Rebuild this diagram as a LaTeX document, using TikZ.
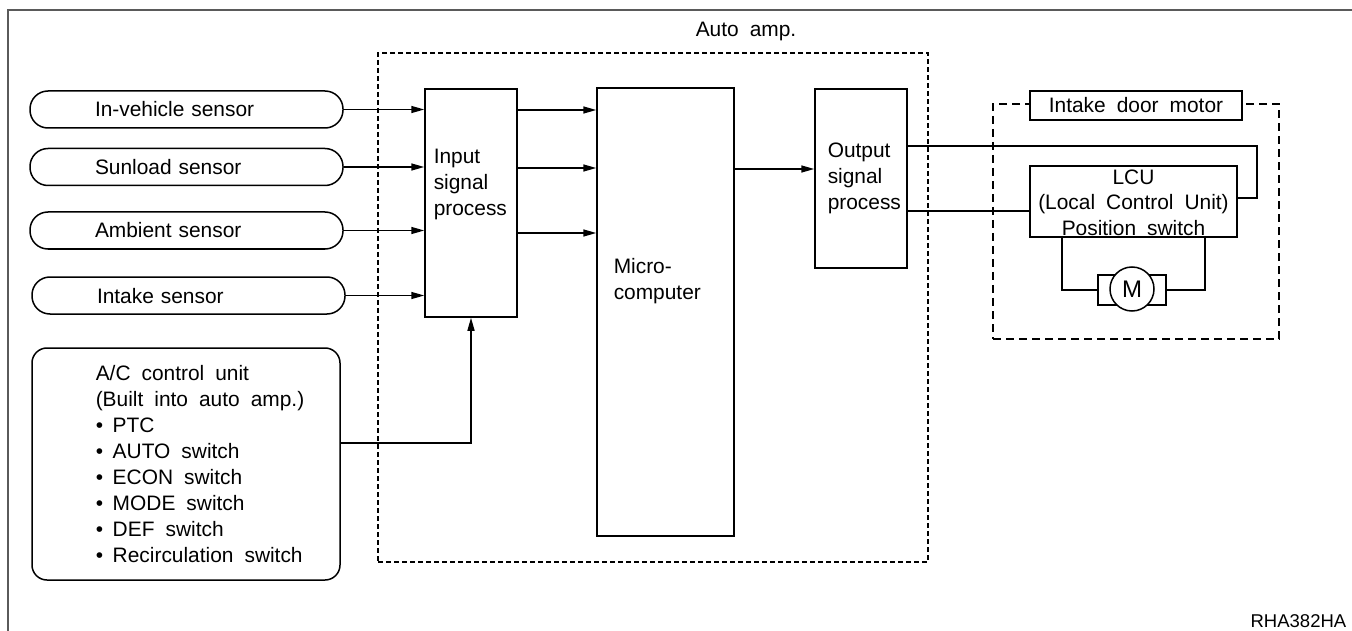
\documentclass[tikz,border=0pt]{standalone}
\usepackage{fontspec}
\setmainfont{Liberation Sans}[WordSpace=1.9]
\usetikzlibrary{arrows.meta,calc}
\definecolor{framec}{RGB}{90,90,90}
\begin{document}
\begin{tikzpicture}[x=1pt,y=-1pt, line width=1.5pt,
  every node/.style={font=\fontsize{20.9}{26}\selectfont, inner sep=0pt},
  pill/.style={draw, rounded corners=18pt, minimum height=37pt, text width=183pt, inner xsep=65pt, text height=15pt, text depth=0pt, align=left},
  blk/.style={draw, rectangle},
  arr/.style={-{Triangle[length=13pt,width=7pt]}},
  txt/.style={align=left, anchor=north west},
]
\useasboundingbox (0,0) rectangle (1352,631);
% frame
\draw[line width=2pt, framec] (7.5,631) -- (7.5,10) -- (1352,10);

% auto amp
\node[draw, dash pattern=on 5pt off 3pt, line width=1.2pt, minimum width=550pt, minimum height=509pt] (amp) at (653,307.5) {};
\node[anchor=base] (amplbl) at (746,37) {Auto amp.};

% sensors
\node[pill] (s1) at (186.5,109.5) {In-vehicle sensor};
\node[pill] (s2) at (186.5,167) {Sunload sensor};
\node[pill] (s3) at (186.5,230.5) {Ambient sensor};
\node[pill] (s4) at (188.5,295.5) {Intake sensor};

% blocks
\node[blk, minimum width=92pt, minimum height=228pt] (in) at (471,203) {};
\node[txt] (intxt) at (433,148) {Input\\signal\\process};
\node[blk, minimum width=137pt, minimum height=448pt] (mc) at (665.5,312) {};
\node[txt] (mctxt) at (613,258) {Micro-\\computer};
\node[blk, minimum width=92pt, minimum height=179pt] (out) at (861,178.5) {};
\node[txt] (outtxt) at (827,142) {Output\\signal\\process};

% A/C control unit
\node[draw, rounded corners=15pt, minimum width=308pt, minimum height=232pt] (ac) at (186,464) {};
\node[txt] (actxt) at (95,365) {A/C control unit\\(Built into auto amp.)\\
\makebox[17pt][l]{\textbullet}PTC\\
\makebox[17pt][l]{\textbullet}AUTO switch\\
\makebox[17pt][l]{\textbullet}ECON switch\\
\makebox[17pt][l]{\textbullet}MODE switch\\
\makebox[17pt][l]{\textbullet}DEF switch\\
\makebox[17pt][l]{\textbullet}Recirculation switch};

% intake door motor
\node[draw, dash pattern=on 8pt off 5pt, line width=1.2pt, minimum width=286pt, minimum height=235pt] (idm) at (1136,221.5) {};
\node[blk, fill=white, minimum width=212pt, minimum height=29pt, text height=15pt, text depth=0pt] (idmlbl) at (1136,105.5) {Intake door motor};
\node[blk, minimum width=207pt, minimum height=71pt] (lcu) at (1133.5,201.5) {};
\node[align=center, anchor=north, font=\fontsize{20.9}{25.5}\selectfont] (lcutxt) at (1133.5,169) {LCU\\(Local Control Unit)\\Position switch};
\node[blk, minimum width=68pt, minimum height=30pt] (mrect) at (1132,290) {};
\node[draw, circle, fill=white, minimum size=44pt, font=\fontsize{24}{28}\selectfont] (mot) at (1132,289) {M};

% connectors
\draw[arr] (s1.east) -- (s1.east -| in.west);
\draw[arr] (s2.east) -- (s2.east -| in.west);
\draw[arr] (s3.east) -- (s3.east -| in.west);
\draw[arr] (s4.east) -- (s4.east -| in.west);
\draw[arr] (in.east |- {(0,110)}) -- (mc.west |- {(0,110)});
\draw[arr] (in.east |- {(0,168)}) -- (mc.west |- {(0,168)});
\draw[arr] (in.east |- {(0,233)}) -- (mc.west |- {(0,233)});
\draw[arr] (mc.east |- {(0,169)}) -- (out.west |- {(0,169)});
\draw[arr] (ac.east |- {(0,443)}) -| (in.south);
\coordinate (turn) at (1257,146);
\draw (out.east |- turn) -- (turn) |- (lcu.east |- {(0,198)});
\draw (out.east |- {(0,211)}) -- (lcu.west |- {(0,211)});
\draw (lcu.south -| {(1062,0)}) |- (mrect.west);
\draw (lcu.south -| {(1205,0)}) |- (mrect.east);

\node[anchor=base east, font=\fontsize{18.5}{22}\selectfont] (rha) at (1347,627) {RHA382HA};
\end{tikzpicture}
\end{document}
